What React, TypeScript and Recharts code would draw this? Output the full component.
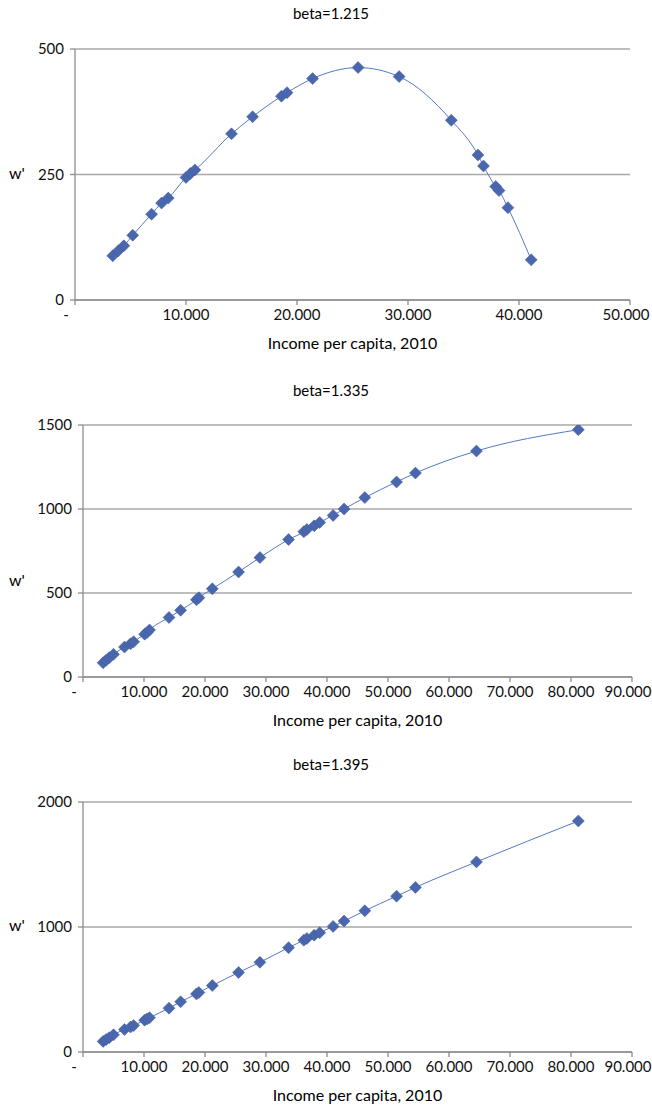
import React from "react"
import { ScatterChart, Scatter, XAxis, YAxis, CartesianGrid } from "recharts"

// beta = 1.215 (only the part above zero is visible)
const income1215 = [3400, 3900, 4400, 5200, 6900, 7800, 8400, 10000, 10400, 10800, 14100, 16000, 18600, 19100, 21400, 25500, 29200, 33900, 36300, 36800, 37900, 38200, 39000, 41100]
const w1215 = [88, 98, 108, 129, 171, 193, 203, 244, 252, 259, 331, 365, 406, 413, 441, 463, 445, 358, 289, 267, 226, 218, 184, 80]

// beta = 1.335 and 1.395 share the same incomes
const income = [3300, 3800, 4300, 5000, 6800, 7800, 8300, 10100, 10500, 10900, 14100, 16000, 18600, 19000, 21200, 25500, 29000, 33700, 36200, 36700, 37900, 38800, 41000, 42800, 46200, 51400, 54500, 64500, 81200]
const w1335 = [85, 100, 115, 135, 178, 198, 210, 255, 265, 280, 354, 397, 460, 472, 525, 625, 711, 818, 865, 878, 900, 920, 962, 1000, 1068, 1161, 1214, 1345, 1472]
const w1395 = [85, 100, 115, 138, 180, 200, 212, 255, 265, 275, 351, 402, 465, 476, 532, 636, 718, 835, 895, 908, 935, 955, 1005, 1048, 1130, 1247, 1317, 1521, 1848]

const xTicks50 = [0, 10000, 20000, 30000, 40000, 50000]
const xTicks90 = [0, 10000, 20000, 30000, 40000, 50000, 60000, 70000, 80000, 90000]

const FONT = "Lato, 'Open Sans', sans-serif"
const MARKER = "#4a67ad"
const LINE = "#5578c4"
const AXIS = "#8c8c8c"

const zip = (xs: number[], ys: number[]) => xs.map((x, i) => ({ x, y: ys[i] }))

const fmtX = (v: number) => (v === 0 ? "-" : v.toLocaleString("de-DE"))

function Diamond(props: any) {
  const { cx, cy } = props
  if (cx == null || cy == null) return null
  const r = 6
  return (
    <polygon
      points={`${cx},${cy - r} ${cx + r},${cy} ${cx},${cy + r} ${cx - r},${cy}`}
      fill={MARKER}
      stroke="#3f5c9e"
      strokeWidth={0.5}
    />
  )
}

function XTick(props: any) {
  const { x, y, payload, last } = props
  let dx = 0
  if (payload.value === 0) dx = -9
  if (payload.value === last) dx = -4
  return (
    <text x={x + dx} y={y + 13} textAnchor="middle" fontSize={15} fill="#111" fontFamily={FONT}>
      {fmtX(payload.value)}
    </text>
  )
}

interface PanelProps {
  title: string
  titleTop: number
  data: { x: number; y: number }[]
  xMax: number
  xTicks: number[]
  yMax: number
  yTicks: number[]
  left: number
  right: number
  plotTop: number
  plotBottom: number
  wTop: number
  xTitleTop: number
}

function Panel(p: PanelProps) {
  const xAxisH = 30
  return (
    <div style={{ position: "absolute", left: 0, top: 0, width: 652, fontFamily: FONT }}>
      <div style={{ position: "absolute", left: 0, width: 652, top: p.titleTop, textAlign: "center", fontSize: 15, paddingLeft: 10, boxSizing: "border-box" }}>
        {p.title}
      </div>
      <div style={{ position: "absolute", left: 9, top: p.wTop, fontSize: 16 }}>w'</div>
      <div style={{ position: "absolute", left: p.left, width: p.right - p.left, top: p.xTitleTop, textAlign: "center", fontSize: 16 }}>
        Income per capita, 2010
      </div>
      <div style={{ position: "absolute", left: 0, top: 0 }}>
        <ScatterChart
          width={652}
          height={p.plotBottom + xAxisH + 2}
          margin={{ top: p.plotTop, right: 652 - p.right, left: 0, bottom: 2 }}
        >
          <CartesianGrid vertical={false} stroke="#a9a9a9" strokeWidth={1.3} />
          <XAxis
            type="number"
            dataKey="x"
            domain={[0, p.xMax]}
            ticks={p.xTicks}
            interval={0}
            height={xAxisH}
            stroke={AXIS}
            strokeWidth={1.3}
            tickSize={5}
            tick={<XTick last={p.xMax} />}
            allowDataOverflow
          />
          <YAxis
            type="number"
            dataKey="y"
            domain={[0, p.yMax]}
            ticks={p.yTicks}
            interval={0}
            width={p.left}
            stroke={AXIS}
            strokeWidth={1.3}
            tickSize={5}
            tickMargin={6}
            tick={{ fill: "#111", fontSize: 15, fontFamily: FONT }}
            allowDataOverflow
          />
          <Scatter
            data={p.data}
            line={{ stroke: LINE, strokeWidth: 1 }}
            lineJointType="monotoneX"
            shape={<Diamond />}
            isAnimationActive={false}
          />
        </ScatterChart>
      </div>
    </div>
  )
}

export default function App() {
  return (
    <div style={{ position: "absolute", left: 0, top: 0, width: 652, height: 1109, background: "#fff", overflow: "hidden" }}>
      <Panel
        title="beta=1.215"
        titleTop={4}
        data={zip(income1215, w1215)}
        xMax={50000}
        xTicks={xTicks50}
        yMax={500}
        yTicks={[0, 250, 500]}
        left={75}
        right={630}
        plotTop={49}
        plotBottom={300}
        wTop={163}
        xTitleTop={333}
      />
      <Panel
        title="beta=1.335"
        titleTop={381}
        data={zip(income, w1335)}
        xMax={90000}
        xTicks={xTicks90}
        yMax={1500}
        yTicks={[0, 500, 1000, 1500]}
        left={83}
        right={632}
        plotTop={425}
        plotBottom={677}
        wTop={570}
        xTitleTop={710}
      />
      <Panel
        title="beta=1.395"
        titleTop={755}
        data={zip(income, w1395)}
        xMax={90000}
        xTicks={xTicks90}
        yMax={2000}
        yTicks={[0, 1000, 2000]}
        left={83}
        right={632}
        plotTop={802}
        plotBottom={1052}
        wTop={915}
        xTitleTop={1085}
      />
    </div>
  )
}
